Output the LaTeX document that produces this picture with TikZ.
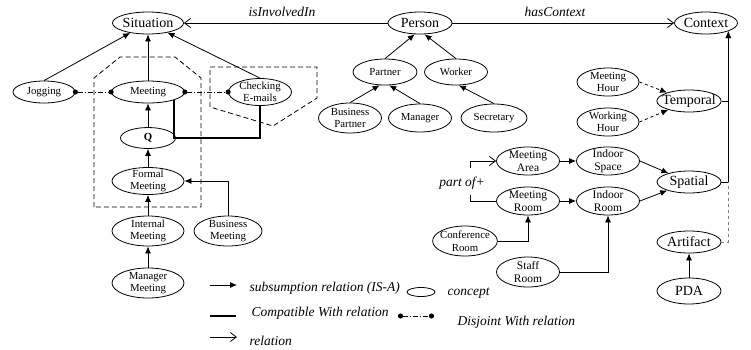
\documentclass[tikz,border=0pt]{standalone}
\usepackage{fontspec}
\setmainfont{Liberation Serif}
\usepackage{tikz}
\usetikzlibrary{shapes,arrows.meta,positioning,calc}

\tikzset{
  concept/.style={draw, ellipse, align=center, inner xsep=-2pt, inner ysep=-2pt, minimum width=63pt, minimum height=28pt, font=\fontsize{10.8}{12.5}\selectfont},
  bigconcept/.style={concept, inner xsep=-4pt, minimum height=22pt, font=\fontsize{14}{15}\selectfont},
  midconcept/.style={concept, font=\fontsize{11.5}{13}\selectfont},
  lbl/.style={font=\fontsize{13.5}{14}\selectfont\itshape},
  isa/.style={-{Latex[length=7pt,width=6pt]}},
  rel/.style={-{Straight Barb[length=6pt,width=9pt]}},
  compat/.style={line width=2.2pt},
  disjoint/.style={{Circle[length=5pt]}-{Circle[length=5pt]}, shorten <=-2.5pt, shorten >=-2.5pt, dash pattern=on 5pt off 2pt on 1pt off 2pt},
  group/.style={dash pattern=on 5pt off 3pt},
}

\begin{document}
\begin{tikzpicture}[x=1pt, y=-1pt, line width=0.8pt]
\useasboundingbox (0,0) rectangle (751,349);

% top level
\node[bigconcept, minimum width=71pt] (sit) at (148,23) {Situation};%
\node[bigconcept, minimum width=64pt] (per) at (420,23) {Person};%
\node[bigconcept] (ctx) at (706,23) {Context};%
\node[lbl] (inv) at (282,12) {isInvolvedIn};%
\node[lbl] (hasc) at (555,12) {hasContext};%

% situations
\node[concept, minimum width=62pt, minimum height=22pt] (jog) at (44,92) {Jogging};%
\node[concept, minimum width=73pt, minimum height=22pt] (meet) at (148,92) {Meeting};%
\node[concept, minimum height=27pt] (chk) at (260,92) {Checking\\E-mails};%
\node[concept, minimum width=55pt, minimum height=21pt] (q) at (148,138) {\textbf{Q}};%
\node[concept, minimum width=72pt, minimum height=27pt] (fmeet) at (148,181) {Formal\\Meeting};%
\node[concept, minimum width=72pt, minimum height=30pt] (imeet) at (148,231) {Internal\\Meeting};%
\node[concept, minimum width=68pt, minimum height=30pt] (bmeet) at (228,231) {Business\\Meeting};%
\node[concept, minimum width=72pt, minimum height=30pt] (mmeet) at (148,283) {Manager\\Meeting};%

% persons
\node[concept, minimum width=64pt, minimum height=26pt] (partner) at (385,72) {Partner};%
\node[concept, minimum height=26pt] (worker) at (456,72) {Worker};%
\node[concept, minimum height=30pt] (bpart) at (350,118) {Business\\Partner};%
\node[concept] (mgr) at (420,118) {Manager};%
\node[concept, minimum width=66pt] (sec) at (494,118) {Secretary};%

% contexts
\node[concept, minimum width=62pt] (mhour) at (608,82) {Meeting\\Hour};%
\node[concept, minimum width=62pt] (whour) at (608,122) {Working\\Hour};%
\node[bigconcept, minimum width=64pt] (temp) at (689,101) {Temporal};%
\node[midconcept] (marea) at (528,161) {Meeting\\Area};%
\node[midconcept] (ispace) at (608,161) {Indoor\\Space};%
\node[midconcept] (mroom) at (528,201) {Meeting\\Room};%
\node[midconcept] (iroom) at (608,201) {Indoor\\Room};%
\node[concept, minimum width=64pt, minimum height=30pt] (conf) at (465,241) {Conference\\Room};%
\node[midconcept, minimum height=30pt] (staff) at (528,272) {Staff\\Room};%
\node[bigconcept, minimum width=64pt] (spa) at (689,182) {Spatial};%
\node[bigconcept, minimum width=64pt] (art) at (689,242) {Artifact};%
\node[bigconcept, minimum width=64pt, minimum height=26pt] (pda) at (689,291) {PDA};%
\node[lbl] (partof) at (462,183) {part of+};%

% groups
\draw[group] (94,207) -- (94,78) -- (120,57) -- (175,57) -- (201,78) -- (201,207) -- cycle;
\draw[group] (210,67) -- (317,67) -- (317,98) -- (273,126) -- (210,107) -- cycle;

% relations
\draw[rel] (per) -- (sit);
\draw[rel] (per) -- (ctx);
\coordinate (pa) at (470,168);
\coordinate (pb) at (470,195);
\draw[rel] (pa) |- (marea.west);
\draw (pb) |- (mroom.west);

% is-a
\draw[isa] (jog.north) -- (sit);
\draw[isa] (meet) -- (sit);
\draw[isa] (chk.north) -- (sit);
\draw[isa] (q) -- (meet);
\draw[isa] (fmeet) -- (q);
\draw[isa] (imeet) -- (fmeet);
\draw[isa] (mmeet) -- (imeet);
\draw[isa] (bmeet.north) |- (fmeet.east);

\draw[isa] (partner.north) -- (per.-115);
\draw[isa] (worker.north) -- (per.-68);
\draw[isa] (bpart.north) -- (partner.-112);
\draw[isa] (mgr.north) -- (partner.-72);
\draw[isa] (sec.north) -- (worker.-78);

\draw[isa, dashed] (mhour.east) -- (temp);
\draw[isa, dashed] (whour.east) -- (temp);
\draw[isa] (marea) -- (ispace);
\draw[isa] (mroom) -- (iroom);
\draw[isa] (ispace.east) -- (spa);
\draw[isa] (iroom.east) -- (spa);
\draw[isa] (conf.east) -| (mroom.south);
\draw[isa] (staff.east) -| (iroom.south);
\draw[isa] (pda) -- (art);
\draw[isa] (temp.east) -| (ctx.-20);
\draw[isa] (spa.east) -| (ctx.-20);
\draw[gray, dashed] (art.east) -| (spa.east -| ctx.-20);

% compatible / disjoint
\draw[compat] (meet.-17) |- (q.east);
\draw[compat] (q.east) -| (chk.south);
\draw[disjoint] (jog) -- (meet);
\draw[disjoint] (meet) -- (chk);

% legend
\coordinate (la1) at (210,285); \coordinate (la2) at (237,285);
\coordinate (lb1) at (210,316); \coordinate (lb2) at (236,316);
\coordinate (lc1) at (400.5,316); \coordinate (lc2) at (431.5,316);
\coordinate (ld1) at (210,337); \coordinate (ld2) at (237,337);
\draw[isa] (la1) -- (la2);
\node[lbl, anchor=west] (lisa) at (246,288) {subsumption relation (IS-A)};%
\node[draw, ellipse, minimum width=28pt, minimum height=9pt, inner sep=0pt] (lcon) at (421,292) {};%
\node[lbl, anchor=west] (lcont) at (444,293) {concept};%
\draw[compat] (lb1) -- (lb2);
\node[lbl, anchor=west] (lcomp) at (248,313) {Compatible With relation};%
\draw[disjoint] (lc1) -- (lc2);
\node[lbl, anchor=west] (ldis) at (454,322) {Disjoint With relation};%
\draw[rel] (ld1) -- (ld2);
\node[lbl, anchor=west] (lrel) at (246,341) {relation};%

\end{tikzpicture}
\end{document}
